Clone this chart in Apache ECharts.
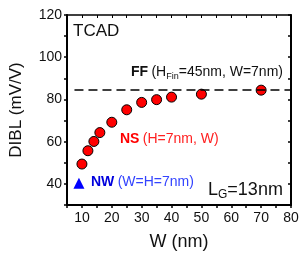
<!DOCTYPE html>
<html>
<head>
<meta charset="utf-8">
<script src="https://cdn.jsdelivr.net/npm/echarts@6/dist/echarts.min.js"></script>
<style>
  html, body { margin: 0; padding: 0; background: #fff; }
  #char1 { width: 304px; height: 260px; }
</style>
</head>
<body>
<div id="char1"></div>
<script>
// NS 数据 (H=7nm, W 变化)
var nsW = [10, 12, 14, 16, 20, 25, 30, 35, 40, 50, 70];
var nsDIBL = [49.4, 55.7, 60.1, 64.3, 69.2, 75.1, 78.6, 79.9, 81.1, 82.5, 84.4];
// NW 数据
var nwW = [9];
var nwDIBL = [40.3];
// FF 参考线
var ffDIBL = 84.5;
var ffFrom = 7.5;
// 刻度标签
var xLabels = [10, 20, 30, 40, 50, 60, 70, 80];
var yLabels = [40, 60, 80, 100, 120];

var font = 'Liberation Sans';
var char1 = echarts.init(document.getElementById('char1'));

var pair = function (xs, ys) {
    return xs.map(function (x, i) { return [x, ys[i]]; });
};

var charOption = {
    animation: false,
    grid: {left: 64, right: 13, top: 15, bottom: 55},
    xAxis: [
        {
            type: 'value', min: 5, max: 80, interval: 5, position: 'bottom',
            name: 'W (nm)', nameLocation: 'middle', nameGap: 28,
            nameTextStyle: {fontFamily: font, fontSize: 18, color: '#111'},
            axisLine: {lineStyle: {color: '#000', width: 2}},
            axisTick: {inside: false, length: 3, lineStyle: {color: '#000', width: 1.5}},
            axisLabel: {customValues: xLabels, margin: 6, fontFamily: font, fontSize: 14, color: '#111'},
            splitLine: {show: false}
        },
        {
            type: 'value', min: 5, max: 80, interval: 5, position: 'top',
            axisLine: {lineStyle: {color: '#000', width: 1.5}},
            axisTick: {inside: true, length: 3, lineStyle: {color: '#000'}},
            axisLabel: {show: false},
            splitLine: {show: false}
        }
    ],
    yAxis: [
        {
            type: 'value', min: 30, max: 120, interval: 10, position: 'left',
            name: 'DIBL (mV/V)', nameLocation: 'middle', nameGap: 42,
            nameTextStyle: {fontFamily: font, fontSize: 17, color: '#111'},
            axisLine: {lineStyle: {color: '#000', width: 2}},
            axisTick: {inside: false, length: 3, lineStyle: {color: '#000', width: 1.5}},
            axisLabel: {customValues: yLabels, margin: 5, fontFamily: font, fontSize: 14, color: '#111'},
            splitLine: {show: false}
        },
        {
            type: 'value', min: 30, max: 120, interval: 10, position: 'right',
            axisLine: {lineStyle: {color: '#000', width: 2}},
            axisTick: {inside: true, length: 3, lineStyle: {color: '#000', width: 1.5}},
            axisLabel: {show: false},
            splitLine: {show: false}
        }
    ],
    series: [
        {
            name: 'FF', type: 'line', data: [], silent: true,
            markLine: {
                symbol: 'none', silent: true, label: {show: false},
                lineStyle: {color: '#000', type: [9, 5], width: 1.5},
                data: [[{coord: [ffFrom, ffDIBL]}, {coord: [80, ffDIBL]}]]
            }
        },
        {
            name: 'NS', type: 'scatter', data: pair(nsW, nsDIBL),
            symbol: 'circle', symbolSize: 10,
            itemStyle: {color: '#ff0000', borderColor: '#000', borderWidth: 1, opacity: 1}
        },
        {
            name: 'NW', type: 'scatter', data: pair(nwW, nwDIBL),
            symbol: 'triangle', symbolSize: 11,
            itemStyle: {color: '#0000ff', opacity: 1}
        }
    ],
    graphic: [
        {type: 'text', left: 73, top: 23, style: {text: 'TCAD', font: '17px ' + font, fill: '#111'}},
        {
            type: 'text', left: 131, top: 63,
            style: {
                text: '{b|FF} {n|(H}{s|Fin}{n|=45nm, W=7nm)}',
                rich: {
                    b: {fontFamily: font, fontSize: 14, fontWeight: 'bold', fill: '#111', lineHeight: 16},
                    n: {fontFamily: font, fontSize: 14, fill: '#111', lineHeight: 16},
                    s: {fontFamily: font, fontSize: 9, fill: '#111', lineHeight: 16, padding: [9, 0, 0, 0]}
                }
            }
        },
        {
            type: 'text', left: 120, top: 132,
            style: {
                text: '{b|NS} {n|(H=7nm, W)}',
                rich: {
                    b: {fontFamily: font, fontSize: 14, fontWeight: 'bold', fill: '#ff0000'},
                    n: {fontFamily: font, fontSize: 14, fill: '#ff2020'}
                }
            }
        },
        {
            type: 'text', left: 91, top: 175,
            style: {
                text: '{b|NW} {n|(W=H=7nm)}',
                rich: {
                    b: {fontFamily: font, fontSize: 14, fontWeight: 'bold', fill: '#0000dd'},
                    n: {fontFamily: font, fontSize: 14, fill: '#3344ff'}
                }
            }
        },
        {
            type: 'text', left: 208, top: 179,
            style: {
                text: '{n|L}{s|G}{n|=13nm}',
                rich: {
                    n: {fontFamily: font, fontSize: 18, fill: '#111', lineHeight: 19},
                    s: {fontFamily: font, fontSize: 12, fill: '#111', lineHeight: 19, padding: [10, 0, 0, 0]}
                }
            }
        }
    ]
};
char1.setOption(charOption);
</script>
</body>
</html>
